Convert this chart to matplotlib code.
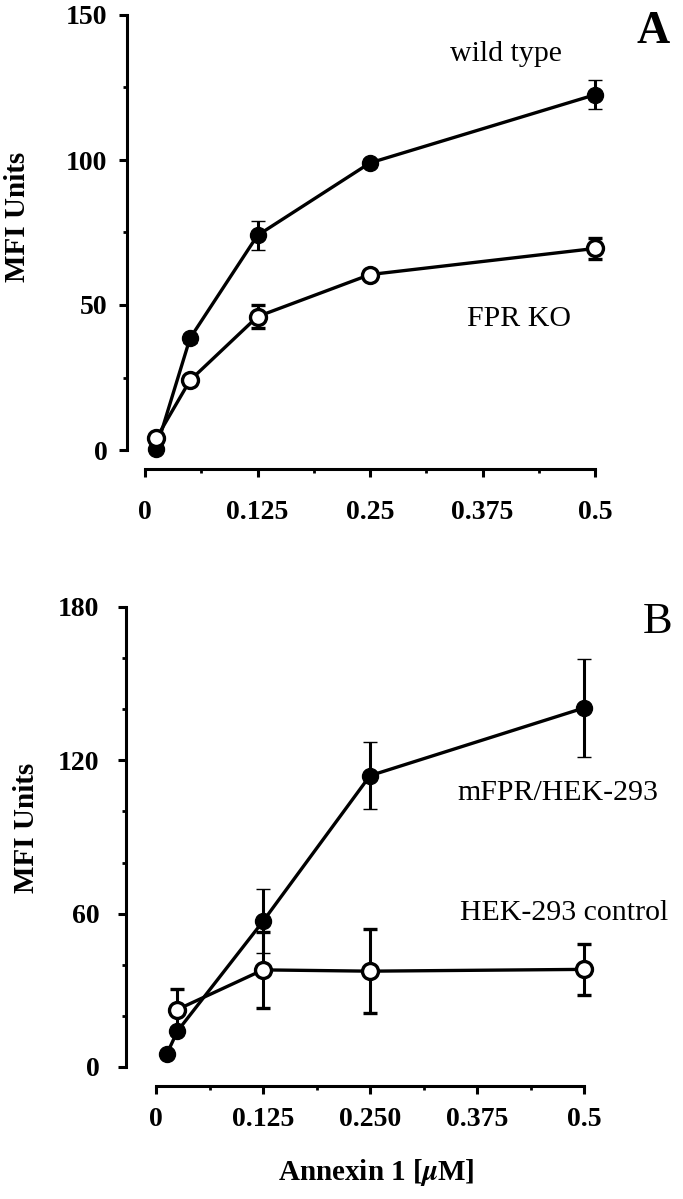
# recreate the two-panel annexin 1 binding figure (A: mouse PMN, B: HEK-293)
import matplotlib
matplotlib.use("Agg")
import matplotlib.pyplot as plt
from matplotlib.ticker import MultipleLocator

plt.rcParams["font.family"] = ["Liberation Serif", "DejaVu Serif"]
plt.rcParams["font.weight"] = "bold"
plt.rcParams["mathtext.fontset"] = "stix"

# panel A data
conc_a = [0.0125, 0.05, 0.125, 0.25, 0.5]
wt_mfi = [0.5, 38.5, 74, 99, 122.5]
wt_err = [1, 1.5, 5, 1.5, 5]
ko_mfi = [4, 24, 46, 60.5, 69.5]
ko_err = [1, 1.5, 4, 1.5, 3.5]
ticks_a = [0, 0.125, 0.25, 0.375, 0.5]
ticklabels_a = ["0", "0.125", "0.25", "0.375", "0.5"]

# panel B data
conc_b = [0.0125, 0.025, 0.125, 0.25, 0.5]
mfpr_mfi = [5, 14, 57, 114, 140.5]
mfpr_err = [1, 1.5, 12.5, 13, 19.3]
conc_b_ctrl = [0.025, 0.125, 0.25, 0.5]
ctrl_mfi = [22.5, 38, 37.5, 38.2]
ctrl_err = [8, 15, 16.5, 10]
ticks_b = [0, 0.125, 0.25, 0.375, 0.5]
ticklabels_b = ["0", "0.125", "0.250", "0.375", "0.5"]

W, H = 683, 1199
fig = plt.figure(figsize=(W / 100, H / 100), dpi=100)


def px_axes(left, right, top, bottom):
    return fig.add_axes([left / W, 1 - bottom / H, (right - left) / W, (bottom - top) / H])


def series(ax, x, y, err, filled, z):
    c = ax.errorbar(x, y, yerr=err, fmt="-o", color="black", lw=2.4,
                    ms=11.5, mfc="black" if filled else "white", mec="black",
                    mew=1 if filled else 2.4, elinewidth=2.2, capsize=5,
                    capthick=2.2, zorder=z)
    for art in c.get_children():
        art.set_clip_on(False)


def style(ax, ymax, ymajor, yminor, ticks, labels, left_off, bottom_off, ypad, xpad):
    for s in ["top", "right"]:
        ax.spines[s].set_visible(False)
    ax.spines["left"].set_position(("outward", left_off))
    ax.spines["bottom"].set_position(("outward", bottom_off))
    for s in ["left", "bottom"]:
        ax.spines[s].set_linewidth(2.2)
    ax.set_xlim(0, 0.5)
    ax.set_ylim(0, ymax)
    ax.yaxis.set_major_locator(MultipleLocator(ymajor))
    ax.yaxis.set_minor_locator(MultipleLocator(yminor))
    ax.set_xticks(ticks)
    ax.set_xticklabels(labels)
    ax.xaxis.set_minor_locator(MultipleLocator(0.0625))
    ax.tick_params(which="major", direction="out", length=5.5, width=2.2, labelsize=20)
    ax.tick_params(which="minor", direction="out", length=3, width=2)
    ax.tick_params(axis="y", pad=ypad)
    ax.tick_params(axis="x", pad=xpad)


# panel A
ax1 = px_axes(145, 595, 15, 450)
series(ax1, conc_a, wt_mfi, wt_err, True, 3)
series(ax1, conc_a, ko_mfi, ko_err, False, 4)
style(ax1, 150, 50, 25, ticks_a, ticklabels_a, 13, 13.7, 8.5, 17)

# panel B
ax2 = px_axes(156, 584, 607, 1067)
series(ax2, conc_b, mfpr_mfi, mfpr_err, True, 3)
series(ax2, conc_b_ctrl, ctrl_mfi, ctrl_err, False, 4)
style(ax2, 180, 60, 20, ticks_b, ticklabels_b, 21.6, 13.7, 13.5, 9.5)


def ftext(x, y, s, **kw):
    fig.text(x / W, 1 - y / H, s, **kw)


ftext(18, 217, "MFI Units", rotation=90, ha="center", va="center", fontsize=21, fontweight="bold")
ftext(27, 828, "MFI Units", rotation=90, ha="center", va="center", fontsize=21, fontweight="bold")
ftext(376, 1173, r"Annexin 1 [$\mu$M]", ha="center", va="center", fontsize=21, fontweight="bold")

ftext(450, 61, "wild type", ha="left", va="baseline", fontsize=21.5, fontweight="normal")
ftext(467, 326, "FPR KO", ha="left", va="baseline", fontsize=21.5, fontweight="normal")
ftext(457, 800, "mFPR/HEK-293", ha="left", va="baseline", fontsize=21.5, fontweight="normal")
ftext(460, 920, "HEK-293 control", ha="left", va="baseline", fontsize=21.5, fontweight="normal")

ftext(653, 43, "A", ha="center", va="baseline", fontsize=33, fontweight="bold")
ftext(658, 633, "B", ha="center", va="baseline", fontsize=32, fontweight="normal")

fig.savefig("out.png", dpi=100)
